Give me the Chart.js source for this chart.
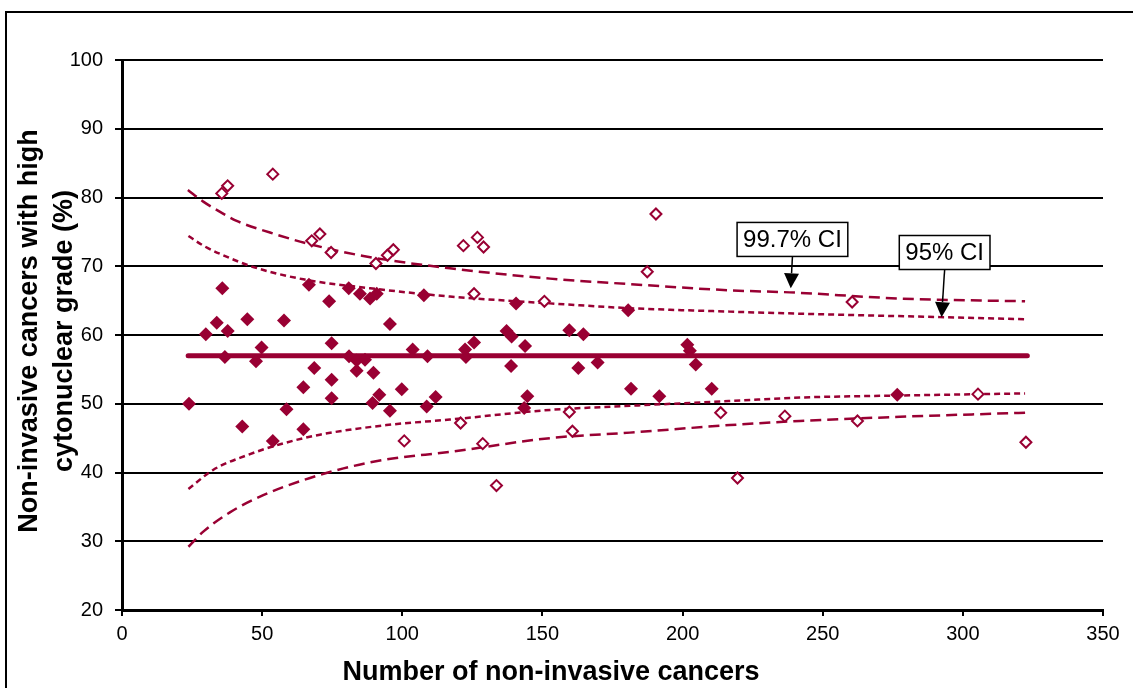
<!DOCTYPE html>
<html>
<head>
<meta charset="utf-8">
<title>Funnel plot</title>
<script src="https://cdn.jsdelivr.net/npm/chart.js@4"></script>
<style>
    html, body { margin: 0; padding: 0; background: #fff; }
    body { width: 1133px; height: 688px; overflow: hidden; position: relative; }
    #frame {
        position: absolute; left: 5px; top: 11px;
        width: 1200px; height: 800px;
        border: 2px solid #000; box-sizing: border-box;
    }
    #funnelChart { position: absolute; left: 0; top: 0; }
</style>
</head>
<body>
<div id="frame"></div>
<canvas id="funnelChart" width="1133" height="688"></canvas>
<script>
// Units inside the 95% limits (filled diamonds)
const insideX = [23.9, 29.9, 33.8, 35.8, 36.7, 37.7, 42.9, 44.7, 47.8, 49.8, 53.8, 57.8, 58.7, 64.7, 64.7,
    66.7, 68.6, 73.9, 74.8, 74.8, 74.8, 80.9, 81.0, 83.7, 83.7, 84.9, 86.7, 88.5, 90.9, 89.7, 89.4, 91.8,
    95.6, 95.6, 99.8, 103.7, 107.7, 109.0, 108.7, 111.9, 122.4, 122.7, 125.6, 137.2, 139.0, 138.8, 140.6,
    143.8, 144.6, 143.5, 159.6, 164.6, 162.8, 169.7, 180.6, 181.6, 191.7, 201.7, 202.6, 204.7, 210.4, 276.6];
const insideY = [50.0, 60.1, 61.8, 66.8, 56.8, 60.6, 46.7, 62.3, 56.2, 58.2, 44.6, 62.1, 49.2, 52.4, 46.3,
    67.3, 55.2, 64.9, 58.8, 53.5, 50.8, 66.8, 56.9, 56.3, 54.8, 66.0, 56.4, 65.3, 66.0, 54.5, 50.1, 51.3,
    61.6, 49.0, 52.1, 57.9, 65.8, 56.9, 49.6, 51.0, 57.9, 56.8, 58.9, 60.6, 59.8, 55.5, 64.6,
    58.4, 51.1, 49.4, 60.7, 60.1, 55.2, 56.0, 63.6, 52.2, 51.1, 58.6, 57.7, 55.7, 52.2, 51.3];

// Units outside the 95% limits (open diamonds)
const outsideX = [35.6, 37.7, 53.8, 67.7, 70.6, 74.6, 90.6, 94.7, 96.8, 100.7, 120.8, 121.8, 126.8, 129.0,
    125.6, 128.7, 133.6, 150.7, 159.6, 160.7, 187.4, 190.5, 213.6, 219.6, 236.5, 260.5, 262.4, 305.4, 322.5];
const outsideY = [80.6, 81.7, 83.4, 73.7, 74.7, 72.0, 70.4, 71.6, 72.4, 44.6, 47.2, 73.0, 74.2, 72.8,
    66.0, 44.2, 38.1, 64.9, 48.8, 46.0, 69.2, 77.6, 48.7, 39.2, 48.2, 64.8, 47.5, 51.4, 44.4];

// Overall mean
const meanX = [23.6, 323.0];
const meanY = [57.0, 57.0];

// Control limits
const upper997X = [23.5, 29.0, 35.0, 40.9, 52.8, 67.1, 86.1, 117.0, 152.7, 181.2, 216.9, 238.3, 277.6, 322.2];
const upper997Y = [81.1, 79.4, 77.9, 76.6, 74.9, 73.2, 71.5, 69.7, 68.2, 67.4, 66.5, 66.2, 65.3, 64.9];
const upper95X = [23.7, 29.0, 35.0, 46.8, 64.7, 88.5, 117.0, 152.7, 181.2, 216.9, 241.9, 291.8, 322.2];
const upper95Y = [74.4, 73.0, 71.8, 69.9, 68.1, 66.8, 65.6, 64.6, 63.9, 63.4, 63.1, 62.6, 62.3];
const lower95X = [23.7, 32.6, 44.5, 56.4, 70.6, 94.4, 117.0, 152.7, 181.2, 216.9, 241.9, 277.6, 322.2];
const lower95Y = [37.6, 40.4, 42.5, 44.1, 45.5, 46.9, 47.7, 49.1, 49.7, 50.4, 50.9, 51.2, 51.5];
const lower997X = [23.7, 29.0, 38.5, 50.4, 64.7, 79.0, 94.4, 117.0, 152.7, 181.2, 216.9, 241.9, 277.6, 322.2];
const lower997Y = [29.2, 31.4, 34.2, 36.7, 38.9, 40.6, 41.9, 43.0, 45.0, 45.8, 46.9, 47.5, 48.1, 48.7];

const xTicks = [0, 50, 100, 150, 200, 250, 300, 350];
const yTicks = [20, 30, 40, 50, 60, 70, 80, 90, 100];

const ciText = ["99.7% CI", "95% CI"];
const xTitle = "Number of non-invasive cancers";
const yTitle = ["Non-invasive cancers with high", "cytonuclear grade (%)"];

const MAROON = "#990033";
const FONT = "'Liberation Sans', Arial, sans-serif";

const toPoints = (xs, ys) => xs.map((x, i) => ({ x, y: ys[i] }));

function limitLine(label, xs, ys, dash) {
    return {
        label,
        data: toPoints(xs, ys),
        showLine: true,
        borderColor: MAROON,
        borderWidth: 2.5,
        borderDash: dash,
        pointRadius: 0,
        cubicInterpolationMode: "monotone",
        fill: false
    };
}

// Boxed labels with arrows pointing at the limit curves
const ciLabelPlugin = {
    id: "ciLabels",
    afterDatasetsDraw(chart, args, opts) {
        const ctx = chart.ctx;
        const xs = chart.scales.x;
        const ys = chart.scales.y;
        ctx.save();
        ctx.font = opts.font;
        ctx.textAlign = "center";
        ctx.textBaseline = "middle";
        opts.items.forEach((item, i) => {
            const text = ciText[i];
            const cx = xs.getPixelForValue(item.at[0]);
            const cy = ys.getPixelForValue(item.at[1]);
            const w = ctx.measureText(text).width + opts.padX * 2;
            const h = opts.boxHeight;
            const tipX = xs.getPixelForValue(item.tip[0]);
            const tipY = ys.getPixelForValue(item.tip[1]);

            // arrow shaft and head
            const startY = cy + h / 2;
            const ang = Math.atan2(tipY - startY, tipX - cx);
            const hl = 15, hw = 7.5;
            const baseX = tipX - Math.cos(ang) * hl;
            const baseY = tipY - Math.sin(ang) * hl;
            ctx.strokeStyle = "#000";
            ctx.lineWidth = 1.5;
            ctx.beginPath();
            ctx.moveTo(cx, startY);
            ctx.lineTo(baseX, baseY);
            ctx.stroke();
            ctx.fillStyle = "#000";
            ctx.beginPath();
            ctx.moveTo(tipX, tipY);
            ctx.lineTo(baseX + Math.sin(ang) * hw, baseY - Math.cos(ang) * hw);
            ctx.lineTo(baseX - Math.sin(ang) * hw, baseY + Math.cos(ang) * hw);
            ctx.closePath();
            ctx.fill();

            // box
            ctx.fillStyle = "#fff";
            ctx.fillRect(cx - w / 2, cy - h / 2, w, h);
            ctx.lineWidth = 1.5;
            ctx.strokeRect(cx - w / 2, cy - h / 2, w, h);
            ctx.fillStyle = "#000";
            ctx.fillText(text, cx, cy + 1);
        });
        ctx.restore();
    }
};

// Axis titles; the x title sits centred on the whole frame, not the plot area
const axisTitlePlugin = {
    id: "axisTitles",
    afterDraw(chart, args, opts) {
        const ctx = chart.ctx;
        ctx.save();
        ctx.font = opts.font;
        ctx.fillStyle = "#000";
        ctx.textAlign = "center";
        ctx.textBaseline = "middle";
        ctx.fillText(xTitle, opts.xTitleX, opts.xTitleY);
        ctx.translate(opts.yTitleX, opts.yTitleY);
        ctx.rotate(-Math.PI / 2);
        yTitle.forEach((line, i) => ctx.fillText(line, 0, i * opts.yLineGap));
        ctx.restore();
    }
};

const ctx = document.getElementById("funnelChart").getContext("2d");

new Chart(ctx, {
    type: "scatter",
    data: {
        datasets: [
            {
                label: "Outside 95% limits",
                data: toPoints(outsideX, outsideY),
                pointStyle: "rectRot",
                pointRadius: 5.5,
                pointBorderWidth: 2,
                pointBackgroundColor: "#fff",
                pointBorderColor: MAROON
            },
            {
                label: "Within 95% limits",
                data: toPoints(insideX, insideY),
                pointStyle: "rectRot",
                pointRadius: 7,
                pointBorderWidth: 0,
                pointBackgroundColor: MAROON,
                pointBorderColor: MAROON
            },
            {
                label: "Mean",
                data: toPoints(meanX, meanY),
                showLine: true,
                borderColor: MAROON,
                borderWidth: 5,
                borderCapStyle: "round",
                pointRadius: 0
            },
            limitLine("Upper 99.7%", upper997X, upper997Y, [11, 6]),
            limitLine("Upper 95%", upper95X, upper95Y, [6, 4]),
            limitLine("Lower 95%", lower95X, lower95Y, [6, 4]),
            limitLine("Lower 99.7%", lower997X, lower997Y, [11, 6])
        ]
    },
    options: {
        responsive: false,
        animation: false,
        events: [],
        layout: { padding: { top: 60, right: 30, left: 0, bottom: 0 } },
        plugins: {
            legend: { display: false },
            tooltip: { enabled: false },
            ciLabels: {
                font: "24px " + FONT,
                padX: 6,
                boxHeight: 34,
                items: [
                    { at: [239.2, 73.9], tip: [238.6, 66.8] },
                    { at: [293.5, 72.0], tip: [292.4, 62.6] }
                ]
            },
            axisTitles: {
                font: "bold 27px " + FONT,
                xTitleX: 551,
                xTitleY: 673,
                yTitleX: 30,
                yTitleY: 331,
                yLineGap: 35
            }
        },
        scales: {
            x: {
                type: "linear",
                min: 0,
                max: 350,
                afterBuildTicks: s => { s.ticks = xTicks.map(v => ({ value: v })); },
                afterFit: s => { s.height = 78; },
                border: { color: "#000", width: 3 },
                grid: { drawOnChartArea: false, drawTicks: true, tickLength: 6, color: "#000", lineWidth: 2 },
                ticks: { color: "#000", font: { family: FONT, size: 20 }, padding: 6, maxRotation: 0 }
            },
            y: {
                type: "linear",
                min: 20,
                max: 100,
                afterBuildTicks: s => { s.ticks = yTicks.map(v => ({ value: v })); },
                afterFit: s => { s.width = 122; },
                border: { color: "#000", width: 3 },
                grid: { drawOnChartArea: true, drawTicks: true, tickLength: 7, color: "#000", lineWidth: 2 },
                ticks: { color: "#000", font: { family: FONT, size: 20 }, padding: 12 }
            }
        }
    },
    plugins: [ciLabelPlugin, axisTitlePlugin]
});
</script>
</body>
</html>
